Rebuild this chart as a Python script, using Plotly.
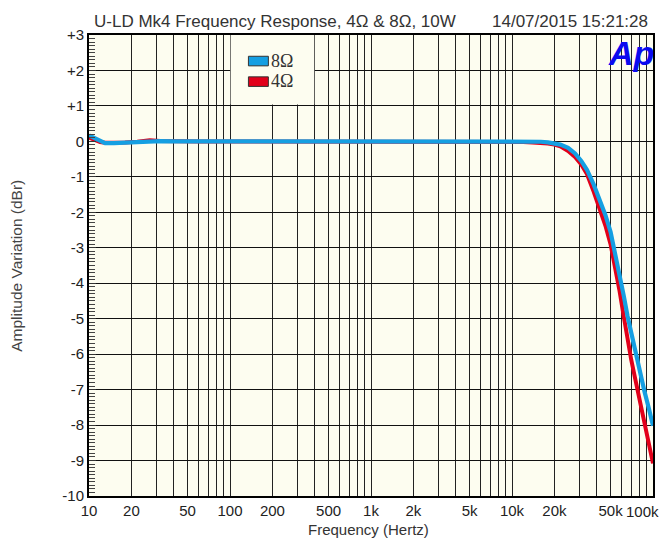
import math
import plotly.graph_objects as go

# ---------------- data ----------------
freq_hz = [10, 11, 12, 13, 15, 18, 22, 27, 32, 40, 60, 100, 200, 500, 1000, 2000,
           5000, 8000, 10000, 12000, 14000, 16000, 18000, 20000, 22000, 25000,
           28000, 31000, 34000, 38000, 42000, 46000, 50000, 54000, 58000, 62000,
           66000, 70000, 75000, 80000, 87000, 93000, 100000]

resp_8ohm = [0.17, 0.09, 0.0, -0.05, -0.05, -0.03, -0.02, 0.02, 0.01, 0.0, 0.0, 0.0,
             0.0, 0.0, 0.0, 0.0, 0.0, 0.0, 0.0, 0.0, -0.01, -0.01, -0.03, -0.05,
             -0.09, -0.18, -0.34, -0.55, -0.80, -1.22, -1.65, -2.08, -2.55, -3.15,
             -3.75, -4.35, -4.93, -5.40, -6.00, -6.45, -7.05, -7.50, -8.02]

resp_4ohm = [0.11, 0.05, -0.02, -0.04, -0.04, -0.03, -0.01, 0.03, 0.01, 0.0, 0.0, 0.0,
             0.0, 0.0, 0.0, 0.0, 0.0, -0.01, -0.01, -0.02, -0.03, -0.04, -0.06, -0.09,
             -0.14, -0.27, -0.44, -0.65, -0.92, -1.42, -1.92, -2.38, -2.90, -3.55,
             -4.23, -4.93, -5.60, -6.15, -6.72, -7.25, -7.95, -8.50, -9.08]

x_label_map = {10: "10", 20: "20", 50: "50", 100: "100", 200: "200", 500: "500",
               1000: "1k", 2000: "2k", 5000: "5k", 10000: "10k", 20000: "20k",
               50000: "50k"}
last_x_label = "100k"
y_tick_vals = [3, 2, 1, 0, -1, -2, -3, -4, -5, -6, -7, -8, -9, -10]
y_tick_text = ["+3", "+2", "+1", "0", "-1", "-2", "-3", "-4", "-5", "-6", "-7", "-8", "-9", "-10"]

series_names = ["8\u03a9", "4\u03a9"]
title_text = "U-LD Mk4 Frequency Response, 4\u03a9 & 8\u03a9, 10W"
date_text = "14/07/2015 15:21:28"

# legend panel extent (Hz, dB)
legend_f = [101, 396]
legend_db = [1.04, 3.0]

# ---------------- styling ----------------
BLUE = "#159fe2"
RED = "#e2001a"
BG = "#fdfdf0"
GRID = "#222222"
FONT = "Liberation Sans, Arial, sans-serif"
SERIF = "Liberation Serif, Times New Roman, serif"

W, H = 663, 538
ML, MR, MT, MB = 89, 8, 35, 42
PW = W - ML - MR
PH = H - MT - MB

x_tick_vals = [m * 10 ** d for d in range(1, 5) for m in range(1, 10)] + [100000]
x_tick_text = [x_label_map.get(v, "") for v in x_tick_vals]

fig = go.Figure()
# legend panel background (blanks the grid behind the legend)
fig.add_trace(go.Scatter(x=[legend_f[0], legend_f[1], legend_f[1], legend_f[0], legend_f[0]],
                         y=[legend_db[0], legend_db[0], legend_db[1], legend_db[1], legend_db[0]],
                         mode="lines", fill="toself", fillcolor=BG, line=dict(width=0, color=BG),
                         hoverinfo="skip", showlegend=False))
fig.add_trace(go.Scatter(x=freq_hz, y=resp_4ohm, mode="lines", name=series_names[1],
                         line=dict(color=RED, width=4), showlegend=False))
fig.add_trace(go.Scatter(x=freq_hz, y=resp_8ohm, mode="lines", name=series_names[0],
                         line=dict(color=BLUE, width=4.2), showlegend=False))

# legend swatches and labels
sw_x0, sw_x1 = (249 - ML) / PW, (269 - ML) / PW
fig.add_shape(type="rect", xref="paper", yref="y", x0=sw_x0, x1=sw_x1, y0=2.13, y1=2.40,
              fillcolor=BLUE, line=dict(color="#333333", width=1), layer="above")
fig.add_shape(type="rect", xref="paper", yref="y", x0=sw_x0, x1=sw_x1, y0=1.55, y1=1.82,
              fillcolor=RED, line=dict(color="#333333", width=1), layer="above")
lab_x = (271 - ML) / PW
for nm, yv in ((series_names[0], 2.27), (series_names[1], 1.69)):
    fig.add_annotation(x=lab_x, y=yv, xref="paper", yref="y", text=nm,
                       showarrow=False, xanchor="left", yanchor="middle", borderpad=0,
                       font=dict(family=SERIF, size=18, color="#333333"))

# titles
fig.add_annotation(x=(92 - ML) / PW, y=1 + 13.5 / PH, xref="paper", yref="paper", text=title_text,
                   showarrow=False, xanchor="left", yanchor="middle",
                   font=dict(family=FONT, size=17, color="#333333"))
fig.add_annotation(x=(652 - ML) / PW, y=1 + 13.5 / PH, xref="paper", yref="paper", text=date_text,
                   showarrow=False, xanchor="right", yanchor="middle",
                   font=dict(family=FONT, size=17, color="#333333"))
fig.add_annotation(x=(16 - ML) / PW, y=0.5, xref="paper", yref="paper",
                   text="Amplitude Variation (dBr)", textangle=-90, showarrow=False,
                   xanchor="center", yanchor="middle",
                   font=dict(family=FONT, size=15.5, color="#444444"))
fig.add_annotation(x=(369 - ML) / PW, y=-33 / PH, xref="paper", yref="paper",
                   text="Frequency (Hertz)", showarrow=False, xanchor="center", yanchor="middle",
                   font=dict(family=FONT, size=15, color="#333333"))
# last x tick label, pulled inside the page edge
fig.add_annotation(x=(663 - ML) / PW, y=-15 / PH, xref="paper", yref="paper",
                   text=last_x_label, showarrow=False, xanchor="right", yanchor="middle",
                   font=dict(family=FONT, size=15, color="#222222"))
# Ap logo
fig.add_annotation(x=(633 - ML) / PW, y=1 - 18 / PH, xref="paper", yref="paper",
                   text="<b><i>Ap</i></b>", showarrow=False, xanchor="center", yanchor="middle",
                   font=dict(family=FONT, size=34, color="#0a0af0"))

fig.update_xaxes(type="log", range=[1, 5], tickmode="array", tickvals=x_tick_vals,
                 ticktext=x_tick_text, showgrid=True, gridcolor=GRID, gridwidth=1.1,
                 showline=True, linecolor="#000000", linewidth=2, mirror=True,
                 ticks="", zeroline=False,
                 tickfont=dict(family=FONT, size=15, color="#222222"))
fig.update_yaxes(range=[-10, 3], tickmode="array", tickvals=y_tick_vals, ticktext=y_tick_text,
                 showgrid=True, gridcolor="#111111", gridwidth=1.3,
                 showline=True, linecolor="#000000", linewidth=2, mirror=True,
                 ticks="inside", ticklen=7, tickcolor="#333333", zeroline=False,
                 minor=dict(tick0=0, dtick=0.1, ticks="inside", ticklen=6,
                            tickcolor="#444444", showgrid=False),
                 tickfont=dict(family=FONT, size=15, color="#222222"))

fig.update_layout(width=W, height=H, margin=dict(l=ML, r=MR, t=MT, b=MB),
                  paper_bgcolor="#ffffff", plot_bgcolor=BG, showlegend=False)

fig.write_html("out.html")
